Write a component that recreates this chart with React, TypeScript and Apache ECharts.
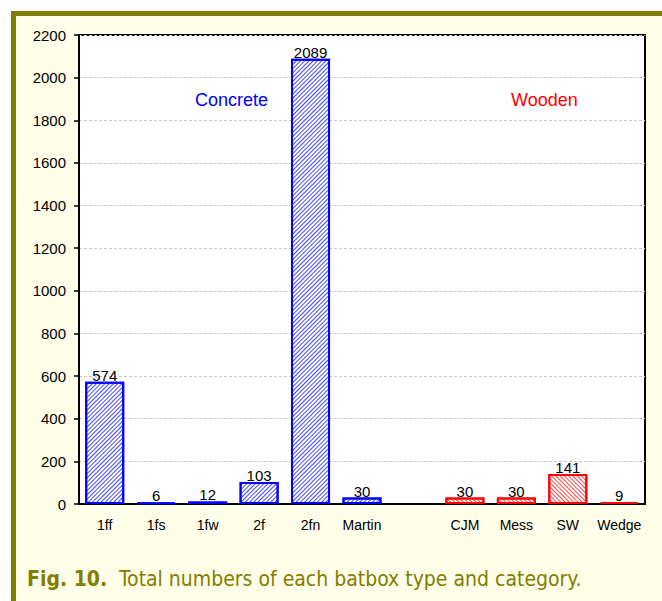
import React, { useEffect, useRef } from "react";
import * as echarts from "echarts";

const categories = ["1ff", "1fs", "1fw", "2f", "2fn", "Martin", "", "CJM", "Mess", "SW", "Wedge"];
const concreteValues = [574, 6, 12, 103, 2089, 30, null, null, null, null, null];
const woodenValues = [null, null, null, null, null, null, null, 30, 30, 141, 9];
const yMin = 0;
const yMax = 2200;
const yInterval = 200;
const groupLabels = ["Concrete", "Wooden"];
const captionBold = "Fig. 10.";
const captionText = "Total numbers of each batbox type and category.";

const FONT = '"Liberation Sans", Arial, sans-serif';
const CAP_FONT = '"DejaVu Sans Condensed", "DejaVu Sans", sans-serif';
const OLIVE = "#808000";

export default function App() {
  const ref = useRef<HTMLDivElement>(null);
  useEffect(() => {
    if (!ref.current) return;
    const chart = echarts.init(ref.current, null, { renderer: "svg" });
    const labelCfg = {
      show: true,
      position: "top",
      distance: -1,
      color: "#000",
      fontSize: 15,
      fontFamily: FONT,
    };
    chart.setOption({
      animation: false,
      backgroundColor: "transparent",
      grid: {
        left: 79,
        top: 35,
        width: 566,
        height: 469,
        show: true,
        backgroundColor: "#ffffff",
        borderColor: "#000",
        borderWidth: 2,
        containLabel: false,
      },
      xAxis: {
        type: "category",
        data: categories,
        axisLine: { show: true, lineStyle: { color: "#000", width: 2 } },
        axisTick: { show: false },
        axisLabel: { color: "#000", fontSize: 14, fontFamily: FONT, margin: 14, interval: 0 },
        splitLine: { show: false },
      },
      yAxis: {
        type: "value",
        min: yMin,
        max: yMax,
        interval: yInterval,
        axisLine: { show: true, lineStyle: { color: "#000", width: 2 } },
        axisTick: { show: true, length: 5, inside: false, lineStyle: { color: "#000", width: 1.5 } },
        axisLabel: {
          color: "#000",
          fontSize: 15,
          fontFamily: FONT,
          margin: 13,
          formatter: (v: number) => String(v),
        },
        splitLine: { show: true, lineStyle: { color: "#c8c8c8", type: [3, 2], width: 1 } },
      },
      series: [
        {
          name: groupLabels[0],
          type: "bar",
          data: concreteValues,
          barWidth: 39,
          barGap: "-100%",
          itemStyle: {
            color: "#ffffff",
            borderColor: "#0000ff",
            borderWidth: 2,
            decal: {
              symbol: "rect",
              symbolSize: 1,
              color: "#4646ff",
              dashArrayX: [1, 0],
              dashArrayY: [1, 2],
              rotation: -Math.PI / 4,
            },
          },
          label: labelCfg,
        },
        {
          name: groupLabels[1],
          type: "bar",
          data: woodenValues,
          barWidth: 39,
          itemStyle: {
            color: "#ffffff",
            borderColor: "#ff0000",
            borderWidth: 2,
            decal: {
              symbol: "rect",
              symbolSize: 1,
              color: "#ff4646",
              dashArrayX: [1, 0],
              dashArrayY: [1, 2],
              rotation: Math.PI / 4,
            },
          },
          label: labelCfg,
        },
      ],
      graphic: [
        {
          type: "text",
          left: 195,
          top: 91,
          style: { text: groupLabels[0], fill: "#0000ff", fontSize: 18, fontFamily: FONT },
        },
        {
          type: "text",
          left: 511,
          top: 91,
          style: { text: groupLabels[1], fill: "#ff0000", fontSize: 18, fontFamily: FONT },
        },
        {
          type: "text",
          left: 27,
          top: 568,
          style: {
            text: "{b|" + captionBold + "}  " + captionText,
            fill: OLIVE,
            fontSize: 21,
            fontFamily: CAP_FONT,
            rich: {
              b: {
                fontWeight: "bold",
                fill: OLIVE,
                fontSize: 21,
                fontFamily: CAP_FONT,
              },
            },
          },
        },
      ],
    });
    return () => chart.dispose();
  }, []);
  return (
    <div style={{ position: "fixed", left: 0, top: 0, width: 662, height: 601, background: "#ffffff" }}>
      <div
        style={{
          position: "absolute",
          left: 11,
          top: 11,
          width: 646,
          height: 585,
          background: "#fffee8",
          borderTop: "5px solid " + OLIVE,
          borderLeft: "5px solid " + OLIVE,
        }}
      />
      <div ref={ref} style={{ position: "absolute", left: 0, top: 0, width: 662, height: 601 }} />
    </div>
  );
}
